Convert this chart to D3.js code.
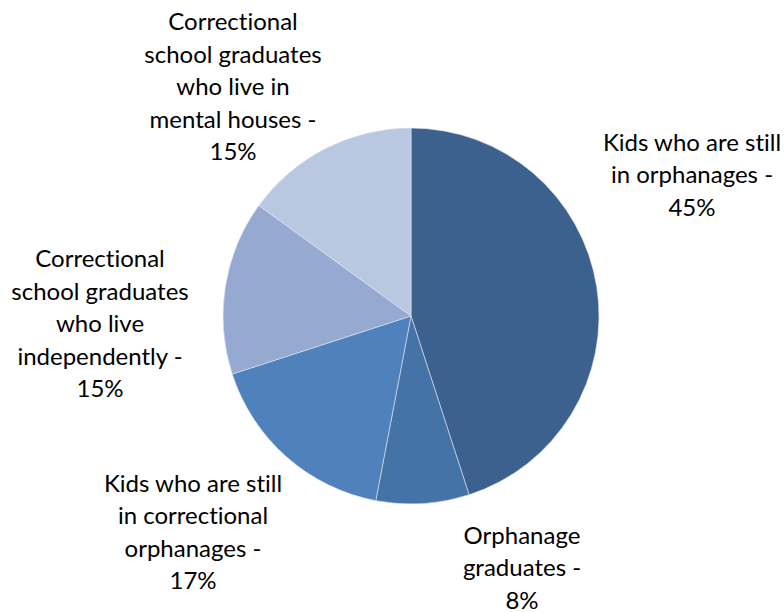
<!DOCTYPE html>
<html>
<head>
<meta charset="utf-8">
<script src="https://cdn.jsdelivr.net/npm/d3@7"></script>
<style>
  html, body { margin: 0; padding: 0; background: #fff; }
  svg { display: block; }
  text { font-variant-ligatures: none; }
</style>
</head>
<body>
<svg></svg>
<script>
// chart data
var labels = [
    ['Kids who are still', 'in orphanages -'],
    ['Orphanage', 'graduates -'],
    ['Kids who are still', 'in correctional', 'orphanages -'],
    ['Correctional', 'school graduates', 'who live', 'independently -'],
    ['Correctional', 'school graduates', 'who live in', 'mental houses -']
];
var values = [45, 8, 17, 15, 15];
var colors = ['#3c618e', '#4573a7', '#4f81bd', '#95a9d1', '#bac7e1'];

// where each label block sits, relative to the pie centre
var labelOffsets = [[281, -141], [111, 252], [-218, 216], [-311, 8], [-178, -229]];

var width = 784;
var height = 612;
var cx = 411;
var cy = 316;
var radius = 188;
var lineGap = 32.5;

var svg = d3.select('svg')
    .attr('width', width)
    .attr('height', height);

var g = svg.append('g')
    .attr('transform', `translate(${cx},${cy})`);

var pie = d3.pie().sort(null).value(d => d);
var arcs = pie(values);
var arcGen = d3.arc().innerRadius(0).outerRadius(radius);

g.selectAll('path').data(arcs)
    .enter().append('path')
    .attr('d', arcGen)
    .attr('fill', (d, i) => colors[i])
    .attr('stroke', '#dfe6f0')
    .attr('stroke-width', 0.6);

var lbl = g.selectAll('text.lbl').data(arcs)
    .enter().append('text')
    .attr('class', 'lbl')
    .attr('text-anchor', 'middle')
    .attr('font-family', 'Lato, "Open Sans", sans-serif')
    .attr('font-size', '24px')
    .attr('fill', '#000');

lbl.each(function (d, i) {
    var lines = labels[i].concat([d.data + '%']);
    var off = labelOffsets[i];
    var top = off[1] - (lines.length - 1) * lineGap / 2;
    d3.select(this).selectAll('tspan').data(lines)
        .enter().append('tspan')
        .attr('x', off[0])
        .attr('y', (l, j) => top + j * lineGap)
        .attr('dy', '0.35em')
        .text(l => l);
});
</script>
</body>
</html>
